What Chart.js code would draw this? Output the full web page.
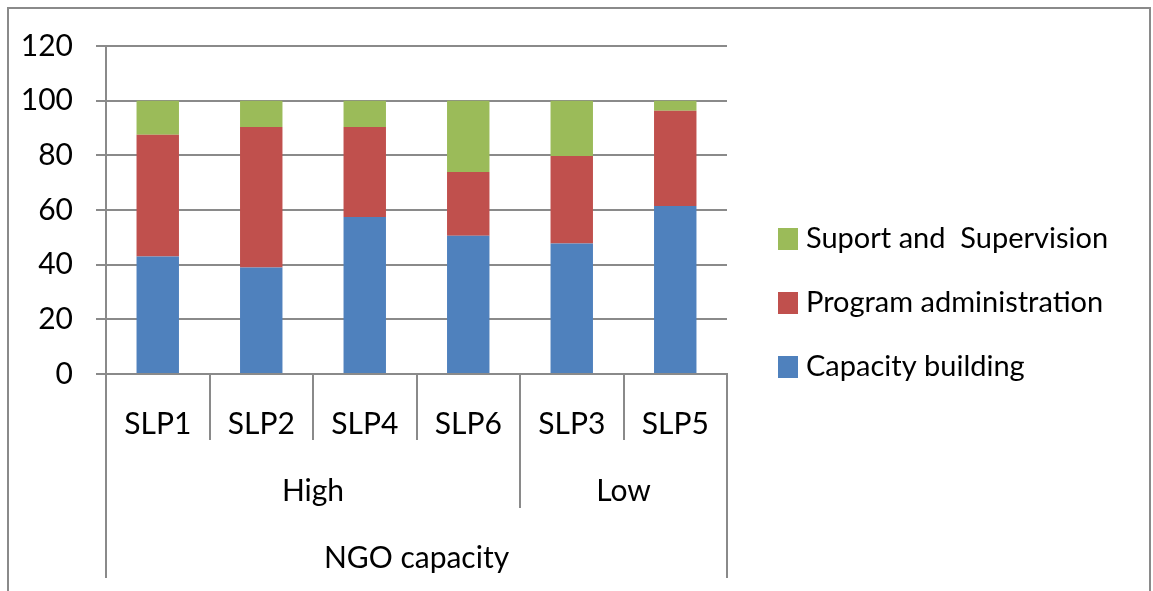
<!DOCTYPE html>
<html>
<head>
<meta charset="utf-8">
<script src="https://cdn.jsdelivr.net/npm/chart.js@4/dist/chart.umd.min.js"></script>
<style>
  html, body { margin: 0; padding: 0; background: #fff; }
  canvas { display: block; }
</style>
</head>
<body>
<canvas id="chart" width="1153" height="591"></canvas>
<script>
const categories = ['SLP1', 'SLP2', 'SLP4', 'SLP6', 'SLP3', 'SLP5'];
const groupLabels = ['High', 'Low'];
const groupSizes = [4, 2];
const outerLabel = 'NGO capacity';
const seriesNames = ['Capacity building', 'Program administration', 'Suport and  Supervision'];
const capacityBuilding = [43, 39, 57.4, 50.6, 47.7, 61.5];
const programAdmin = [44.5, 51.4, 33, 23.3, 32.1, 34.8];
const supportSupervision = [12.5, 9.6, 9.6, 26.1, 20.2, 3.7];
const yMin = 0, yMax = 120, yStep = 20;

const FONT = 'Lato, "Open Sans", sans-serif';
const GRID = '#8a8a8a';

// frame, grouped category labels and legend
const decor = {
  id: 'decor',
  beforeDraw(chart) {
    const ctx = chart.ctx;
    ctx.save();
    ctx.strokeStyle = GRID;
    ctx.lineWidth = 2;
    ctx.strokeRect(8, 8, 1142, 620);
    ctx.restore();
  },
  afterDraw(chart) {
    const ctx = chart.ctx;
    const x = chart.scales.x;
    const area = chart.chartArea;
    const half = (x.getPixelForValue(1) - x.getPixelForValue(0)) / 2;
    const base = area.bottom;

    ctx.save();
    ctx.strokeStyle = GRID;
    ctx.lineWidth = 2;
    ctx.fillStyle = '#000';
    ctx.font = '30px ' + FONT;
    ctx.textAlign = 'center';
    ctx.textBaseline = 'middle';

    // group row
    let start = 0;
    groupLabels.forEach((g, i) => {
      const end = start + groupSizes[i] - 1;
      const l = x.getPixelForValue(start) - half;
      const r = x.getPixelForValue(end) + half;
      if (i > 0) {
        ctx.beginPath(); ctx.moveTo(l, base); ctx.lineTo(l, base + 134); ctx.stroke();
      }
      ctx.fillText(g, (l + r) / 2, base + 117);
      start = end + 1;
    });

    // outer row
    const L = x.getPixelForValue(0) - half;
    const R = x.getPixelForValue(categories.length - 1) + half;
    ctx.beginPath();
    ctx.moveTo(L, base); ctx.lineTo(L, base + 204);
    ctx.moveTo(R, base); ctx.lineTo(R, base + 204);
    ctx.stroke();
    ctx.fillText(outerLabel, (L + R) / 2, base + 184);

    // legend (reverse order like the stack)
    ctx.font = '29px ' + FONT;
    ctx.textAlign = 'left';
    const ds = chart.data.datasets;
    for (let k = 0; k < ds.length; k++) {
      const d = ds[ds.length - 1 - k];
      const cy = 239 + k * 64;
      ctx.fillStyle = d.backgroundColor;
      ctx.fillRect(778, cy - 11, 20, 22);
      ctx.fillStyle = '#000';
      ctx.fillText(d.label, 806, cy);
    }
    ctx.restore();
  }
};

new Chart(document.getElementById('chart').getContext('2d'), {
  type: 'bar',
  data: {
    labels: categories,
    datasets: [
      { label: seriesNames[0], data: capacityBuilding, backgroundColor: '#4F81BD' },
      { label: seriesNames[1], data: programAdmin, backgroundColor: '#C0504D' },
      { label: seriesNames[2], data: supportSupervision, backgroundColor: '#9BBB59' }
    ]
  },
  options: {
    responsive: false,
    animation: false,
    layout: { padding: { left: 0, top: 46, right: 426, bottom: 0 } },
    datasets: { bar: { categoryPercentage: 1, barPercentage: 0.41 } },
    plugins: { legend: { display: false }, tooltip: { enabled: false } },
    scales: {
      x: {
        stacked: true,
        offset: true,
        grid: { offset: true, drawOnChartArea: false, tickLength: 66, color: GRID, lineWidth: 2 },
        border: { color: GRID, width: 2 },
        ticks: { color: '#000', font: { family: FONT, size: 30 }, padding: -34 },
        afterFit(s) { s.height = 591 - 374; }
      },
      y: {
        stacked: true,
        min: yMin,
        max: yMax,
        ticks: { stepSize: yStep, color: '#000', font: { family: FONT, size: 30 }, padding: 23 },
        grid: { tickLength: 10, color: GRID, lineWidth: 2 },
        border: { color: GRID, width: 2 },
        afterFit(s) { s.width = 106; }
      }
    }
  },
  plugins: [decor]
});
</script>
</body>
</html>
